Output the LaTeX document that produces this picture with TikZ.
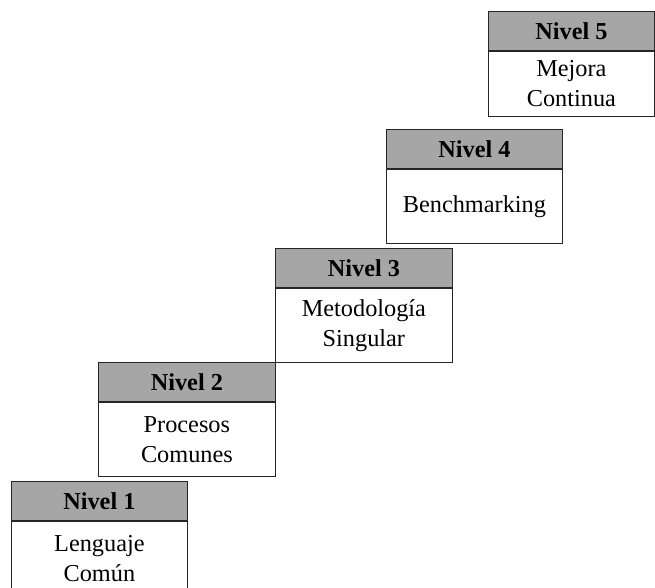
\documentclass[tikz,border=0pt]{standalone}
\usepackage{fontspec}
\setmainfont{Liberation Serif}
\usetikzlibrary{positioning}
\definecolor{headgray}{RGB}{166,166,166}

\begin{document}
\begin{tikzpicture}[x=1pt,y=-1pt]

\tikzset{head/.style = {draw=black!85, line width=0.8pt, fill=headgray, minimum width=176pt, minimum height=39pt, inner sep=0pt, anchor=north west, font=\fontsize{24.3}{30}\selectfont\bfseries}}
\tikzset{body/.style = {draw=black!85, line width=0.8pt, fill=white, minimum width=176pt, minimum height=74pt, inner sep=0pt, align=center, font=\fontsize{24.3}{30}\selectfont}}

\useasboundingbox (0,0) rectangle (655,588);

% headers
\node[head] (h1) at (11,481) {Nivel 1};
\node[head, minimum width=177pt] (h2) at (98,362) {Nivel 2};
\node[head, minimum width=177pt] (h3) at (275,248) {Nivel 3};
\node[head] (h4) at (386,129) {Nivel 4};
\node[head, minimum width=166pt] (h5) at (488,11) {Nivel 5};

% bodies
\node[body, below=0pt of h1] (b1) {Lenguaje\\Común};
\node[body, below=0pt of h2, minimum width=177pt] (b2) {Procesos\\Comunes};
\node[body, below=0pt of h3, minimum width=177pt] (b3) {Metodología\\Singular};
\node[body, below=0pt of h4] (b4) {Benchmarking};
\node[body, below=0pt of h5, minimum width=166pt, minimum height=65pt] (b5) {Mejora\\Continua};

\end{tikzpicture}
\end{document}
